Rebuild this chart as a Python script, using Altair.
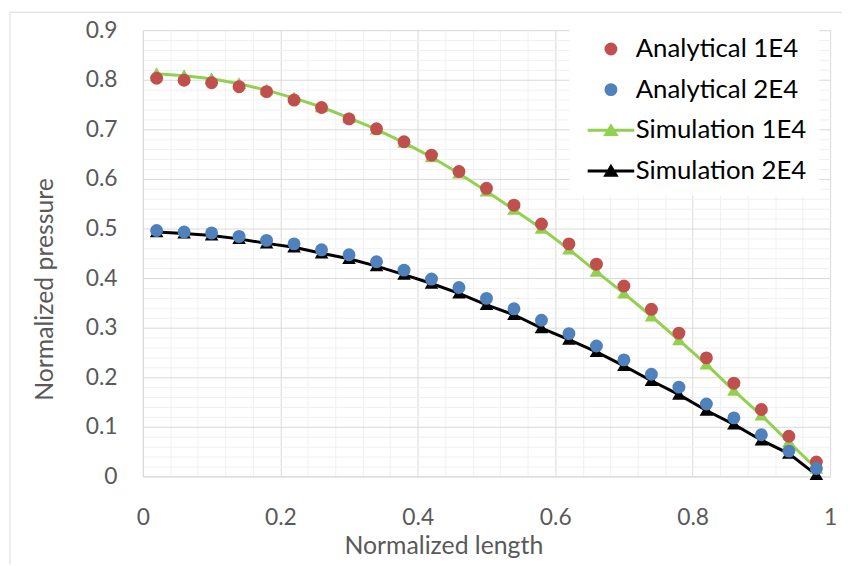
import altair as alt
import pandas as pd

# ---- data ----
x_vals = [0.02, 0.06, 0.10, 0.14, 0.18, 0.22, 0.26, 0.30, 0.34, 0.38, 0.42, 0.46, 0.50,
          0.54, 0.58, 0.62, 0.66, 0.70, 0.74, 0.78, 0.82, 0.86, 0.90, 0.94, 0.98]
analytical_1e4 = [0.803, 0.799, 0.794, 0.786, 0.776, 0.759, 0.744, 0.721, 0.701, 0.675,
                  0.648, 0.615, 0.581, 0.547, 0.509, 0.469, 0.428, 0.384, 0.337, 0.289,
                  0.239, 0.188, 0.135, 0.081, 0.029]
analytical_2e4 = [0.496, 0.493, 0.491, 0.484, 0.476, 0.469, 0.457, 0.447, 0.433, 0.416,
                  0.398, 0.381, 0.359, 0.338, 0.315, 0.288, 0.263, 0.235, 0.206, 0.180,
                  0.146, 0.118, 0.084, 0.051, 0.016]
simulation_1e4 = [0.812, 0.808, 0.802, 0.792, 0.779, 0.763, 0.745, 0.723, 0.700, 0.673,
                  0.644, 0.611, 0.575, 0.538, 0.500, 0.458, 0.413, 0.369, 0.323, 0.275,
                  0.226, 0.173, 0.123, 0.069, 0.016]
simulation_2e4 = [0.493, 0.490, 0.486, 0.479, 0.470, 0.462, 0.450, 0.439, 0.424, 0.407,
                  0.389, 0.369, 0.346, 0.326, 0.299, 0.276, 0.251, 0.223, 0.193, 0.165,
                  0.133, 0.105, 0.073, 0.046, 0.003]

series_names = ["Analytical 1E4", "Analytical 2E4", "Simulation 1E4", "Simulation 2E4"]
series_colors = ["#C0504D", "#4F81BD", "#92D050", "#000000"]

x_ticks = [0, 0.2, 0.4, 0.6, 0.8, 1.0]
y_ticks = [0, 0.1, 0.2, 0.3, 0.4, 0.5, 0.6, 0.7, 0.8, 0.9]
x_grid = [round(i * 0.04, 2) for i in range(26)]   # minor + major grid values
y_grid = [round(i * 0.02, 2) for i in range(46)]

FONT = "Lato"
TEXT_GRAY = "#595959"
TRI = "M-1.05,0.8L0,-1L1.05,0.8Z"
# legend symbol: a horizontal bar (the line) plus a triangle marker
TRI_LEG = "M-3.6,-0.23H3.6V0.23H-3.6Z M-1.2,0.9L0,-1.1L1.2,0.9Z"
legend_shapes = ["circle", "circle", TRI_LEG, TRI_LEG]

color_of = dict(zip(series_names, series_colors))
rows = []
for name, vals in [("Analytical 1E4", analytical_1e4), ("Analytical 2E4", analytical_2e4),
                   ("Simulation 1E4", simulation_1e4), ("Simulation 2E4", simulation_2e4)]:
    for xv, yv in zip(x_vals, vals):
        rows.append({"x": xv, "value": yv, "series": name, "col": color_of[name]})
df = pd.DataFrame(rows)
df["order"] = range(len(df))

color_scale = alt.Scale(domain=series_names, range=series_colors)
shape_scale = alt.Scale(domain=series_names, range=legend_shapes)

xs = alt.Scale(domain=[0, 1], nice=False, zero=False)
ys = alt.Scale(domain=[0, 0.9], nice=False, zero=False)

x_axis = alt.Axis(
    values=x_grid, title="Normalized length", grid=True,
    gridColor={"condition": {"test": "abs(datum.value*5 - round(datum.value*5)) < 1e-6",
                             "value": "#d9d9d9"}, "value": "#f0f0f0"},
    labelExpr="abs(datum.value*5 - round(datum.value*5)) < 1e-6 ? format(datum.value, '.1~f') : ''",
    labelOverlap=False, labelFlush=False, ticks=False, tickSize=0,
    labelFont=FONT, labelFontSize=23, labelColor=TEXT_GRAY, labelPadding=42,
    labelBaseline="middle",
    domainColor="#d9d9d9",
    titleFont=FONT, titleFontSize=25, titleColor=TEXT_GRAY, titleFontWeight="normal",
    titleX=303, titleY=70, titleBaseline="middle", titleAlign="center",
)
y_axis = alt.Axis(
    values=y_grid, title="Normalized pressure", grid=True,
    gridColor={"condition": {"test": "abs(datum.value*10 - round(datum.value*10)) < 1e-6",
                             "value": "#d9d9d9"}, "value": "#f0f0f0"},
    labelExpr="abs(datum.value*10 - round(datum.value*10)) < 1e-6 ? format(datum.value, '.1~f') : ''",
    labelOverlap=False, labelFlush=False, ticks=False, tickSize=0,
    labelFont=FONT, labelFontSize=23, labelColor=TEXT_GRAY, labelPadding=26,
    domainColor="#d9d9d9",
    titleFont=FONT, titleFontSize=25, titleColor=TEXT_GRAY, titleFontWeight="normal",
    titleX=-99, titleY=261, titleAngle=270, titleBaseline="middle", titleAlign="center",
)

legend = alt.Legend(
    title=None, orient="none", legendX=430, legendY=-6, direction="vertical",
    padding=12, fillColor="white",
    labelFont=FONT, labelFontSize=26, labelColor="#000000", labelLimit=320,
    symbolSize=170, symbolOffset=17, labelOffset=12, rowPadding=15,
    symbolOpacity=1,
)

base = alt.Chart(df)
X = alt.X("x:Q", scale=xs, axis=x_axis)
Y = alt.Y("value:Q", scale=ys, axis=y_axis)

frame = alt.Chart(pd.DataFrame({"a": [0]})).mark_rect(
    fill="transparent", stroke="#d9d9d9", strokeWidth=1
).encode(x=alt.value(-134), x2=alt.value(720), y=alt.value(-18), y2=alt.value(560))

sim = base.transform_filter("indexof(datum.series, 'Simulation') == 0")
ana = base.transform_filter("indexof(datum.series, 'Analytical') == 0")

lines = sim.mark_line(strokeWidth=3).encode(
    x=X, y=Y,
    stroke=alt.Stroke("col:N", scale=None),
    detail="series:N",
    order="order:Q",
)

triangles = sim.mark_point(filled=True, opacity=1, size=170, shape=TRI).encode(
    x=X, y=Y,
    fill=alt.Fill("col:N", scale=None),
)

circles = ana.mark_point(filled=True, opacity=1, size=170, shape="circle").encode(
    x=X, y=Y,
    fill=alt.Fill("col:N", scale=None),
)

# invisible layer that only provides the legend
legend_layer = base.mark_point(filled=True, opacity=0, size=170).encode(
    x=X, y=Y,
    color=alt.Color("series:N", scale=color_scale, legend=legend),
    shape=alt.Shape("series:N", scale=shape_scale, legend=legend),
)

chart = alt.layer(frame, lines, triangles, circles, legend_layer).properties(
    width=693, height=450,
    padding={"left": 136, "top": 20, "right": 12, "bottom": 86},
    autosize="none",
    background="white",
).configure_view(stroke=None)

chart.save("out.html", embed_options={"renderer": "svg", "actions": False})
